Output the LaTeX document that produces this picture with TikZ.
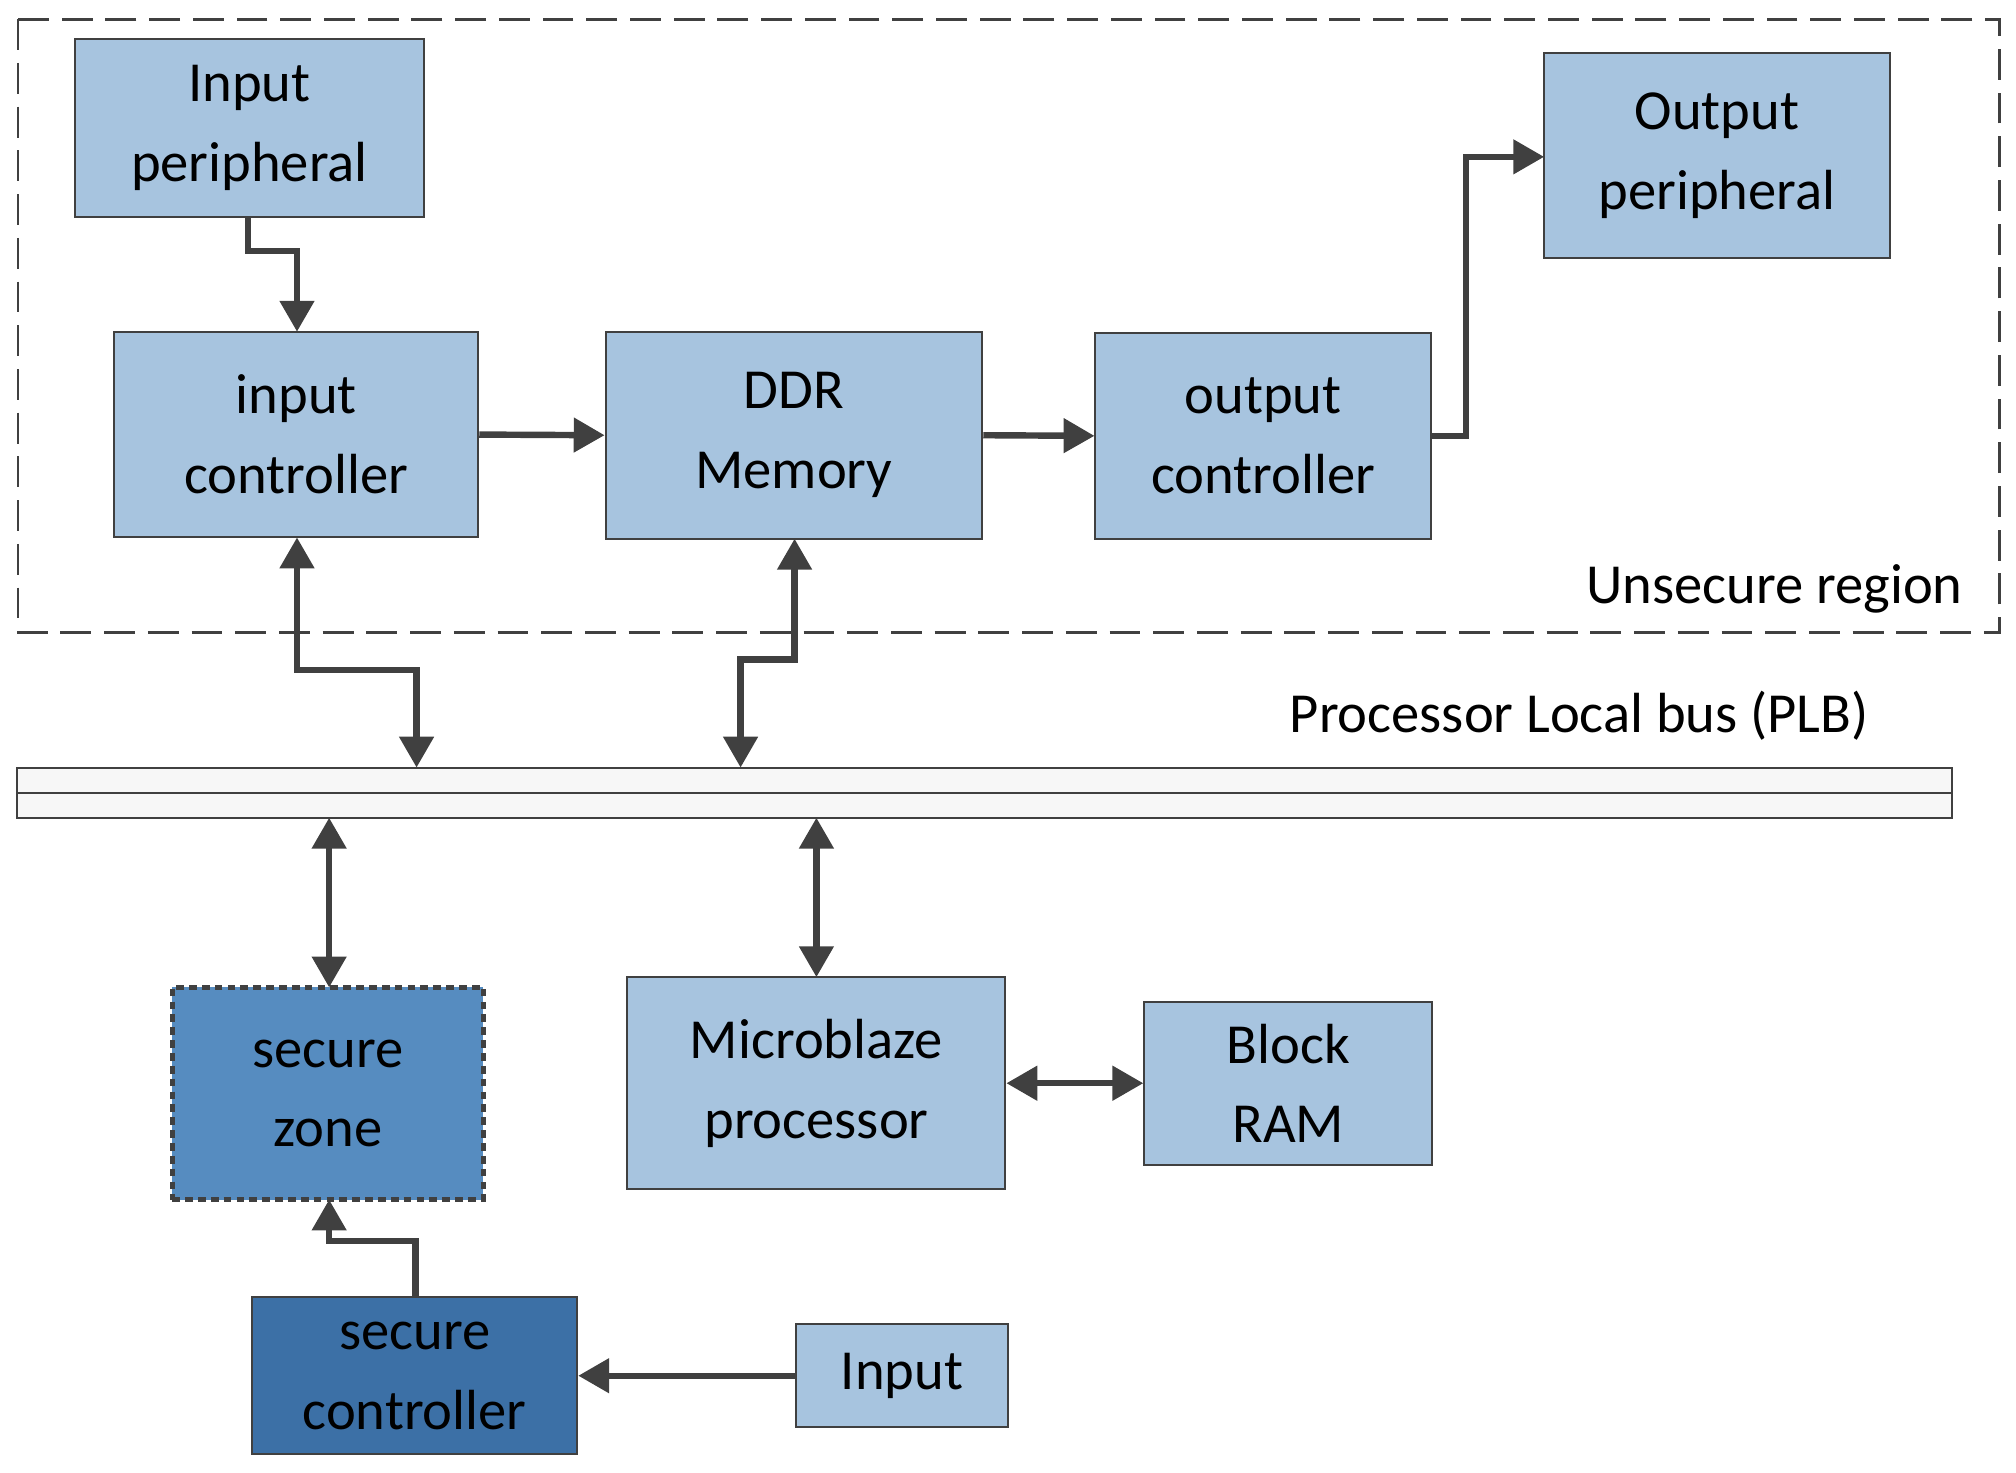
\documentclass[tikz,border=0pt]{standalone}
\usepackage{fontspec}
\setmainfont{Carlito}
\usetikzlibrary{arrows.meta}
\definecolor{lb}{HTML}{A7C4DF}
\definecolor{mb}{HTML}{568CC0}
\definecolor{db}{HTML}{3C70A6}
\definecolor{ln}{HTML}{404040}
\begin{document}
\begin{tikzpicture}[x=1pt,y=-1pt,
 box/.style={draw=ln,line width=1.5pt,fill=lb,align=center,font=\fontsize{44}{62}\selectfont,inner sep=0pt},
 ar/.style={draw=ln,line width=5pt,-{Triangle[length=24pt,width=26pt]}},
 dar/.style={draw=ln,line width=5pt,{Triangle[length=24pt,width=26pt]}-{Triangle[length=24pt,width=26pt]}}]
\useasboundingbox (0,0) rectangle (1568,1145);
\draw[ln,line width=2pt,dash pattern=on 24pt off 10pt] (14,15) rectangle (1555,492);
\node[box,minimum width=272pt,minimum height=139pt] (ip) at (194,99.5) {Input\\peripheral};
\node[box,minimum width=283pt,minimum height=160pt] (ic) at (230.5,338) {input\\controller};
\node[box,minimum width=293pt,minimum height=161pt] (ddr) at (617.5,338.5) {DDR\\Memory};
\node[box,minimum width=261pt,minimum height=160pt] (oc) at (982.5,339) {output\\controller};
\node[box,minimum width=269pt,minimum height=160pt] (op) at (1335.5,121) {Output\\peripheral};
\node[anchor=east,font=\fontsize{44}{52}\selectfont] (ur) at (1530,458) {Unsecure region};
\node[anchor=east,font=\fontsize{44}{52}\selectfont] (plbl) at (1457,557) {Processor Local bus (PLB)};
\draw[ln,line width=1.5pt,fill=black!3] (13,597) rectangle (1518,636);
\draw[ln,line width=1.5pt] (13,617) -- (1518,617);
\coordinate (b1) at (324,597); \coordinate (b2) at (576,597);
\coordinate (b3) at (256,636); \coordinate (b4) at (635,636);
\coordinate (icn) at (231,258); \coordinate (opw) at (1201,122);
\node[box,fill=mb,draw=ln,line width=4pt,dash pattern=on 6pt off 4pt,minimum width=242pt,minimum height=165pt] (sz) at (255,850.5) {secure\\zone};
\node[box,minimum width=294pt,minimum height=165pt] (mb) at (635,842.5) {Microblaze\\processor};
\node[box,minimum width=224pt,minimum height=127pt] (br) at (1002,842.5) {Block\\RAM};
\node[box,fill=db,minimum width=253pt,minimum height=122pt] (sc) at (322.5,1070) {secure\\controller};
\node[box,minimum width=165pt,minimum height=80pt] (in) at (701.5,1070) {Input};
\draw[ar] (193,169) -- (193,195) -- (231,195) -- (icn);
\draw[ar] (ic.east) -- (ddr.west);
\draw[ar] (ddr.east) -- (oc.west);
\draw[ar] (oc.east) -- (1140,339) -- (1140,122) -- (opw);
\draw[dar] (231,418) -- (231,521) -- (324,521) -- (b1);
\draw[dar] (618,419) -- (618,513) -- (576,513) -- (b2);
\draw[dar] (b3) -- (256,768);
\draw[dar] (b4) -- (635,760);
\draw[dar] (mb.east) -- (br.west);
\draw[ar] (323,1009) -- (323,965) -- (256,965) -- (256,933);
\draw[ar] (in.west) -- (sc.east);
\end{tikzpicture}
\end{document}
